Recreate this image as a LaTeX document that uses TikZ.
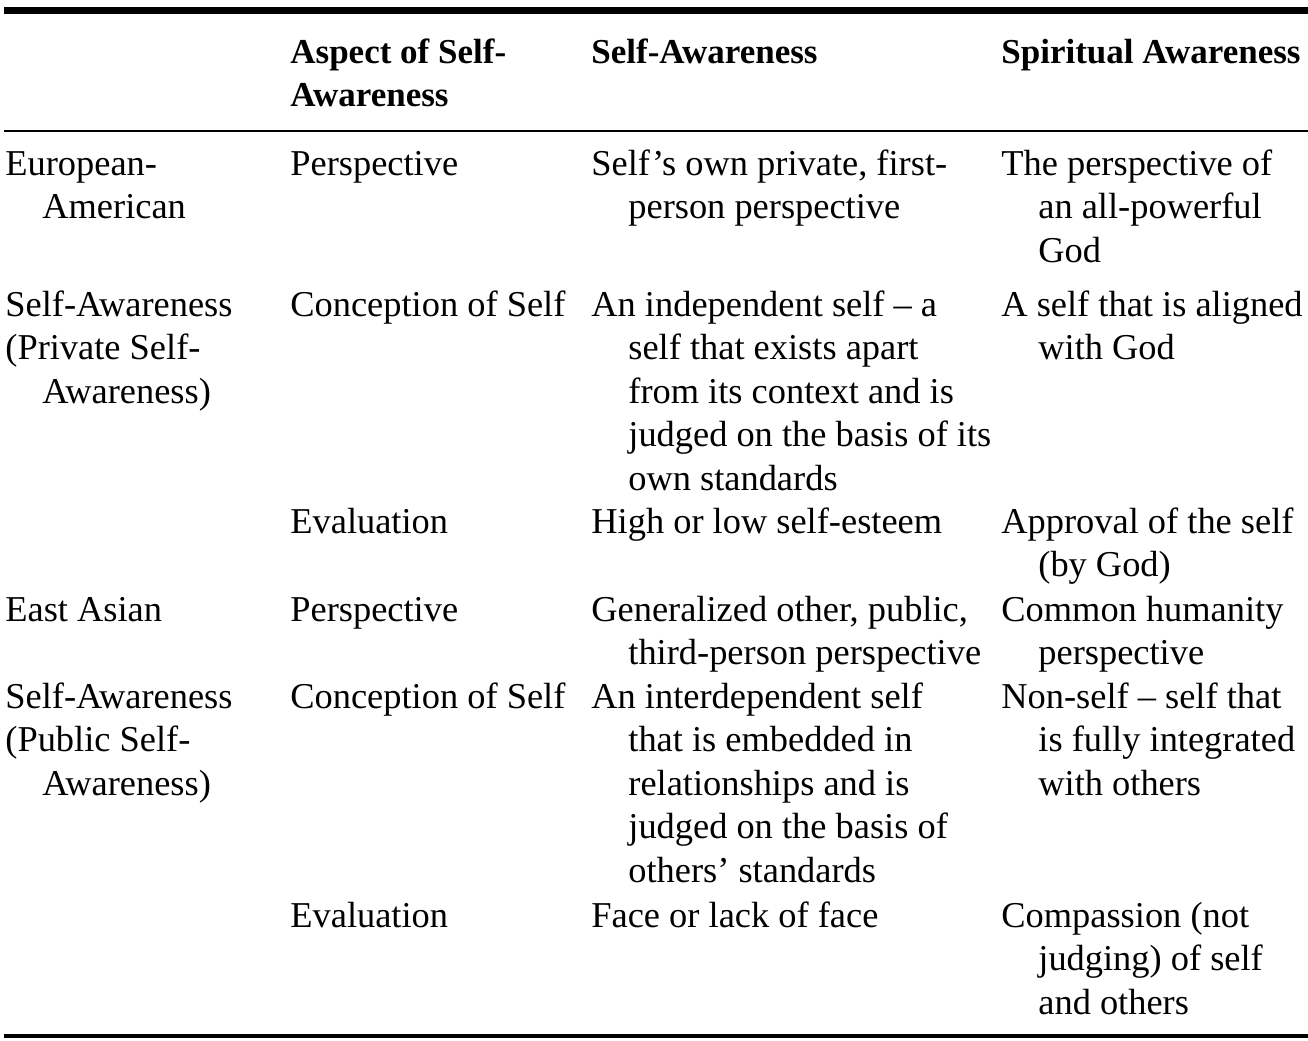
\documentclass[tikz,border=0pt]{standalone}
\usepackage{fontspec}
\setmainfont{Liberation Serif}
\usepackage{tikz}
\newcommand{\hin}{\hspace*{18.5pt}}
\newcommand{\lns}[1]{\begin{tabular}[t]{@{}l@{}}#1\end{tabular}}

\begin{document}
\begin{tikzpicture}[x=0.5pt,y=-0.5pt,
  cell/.style={anchor=base west,inner sep=0pt,font=\fontsize{18.2}{21.75}\selectfont},
  head/.style={cell,font=\fontsize{17.5}{21.75}\selectfont\bfseries}]
  \useasboundingbox (0,0) rectangle (1308,1040);
  % rules
  \draw[line width=3.5pt] (4,10) -- (1308,10);
  \draw[line width=1.1pt] (4,131) -- (1308,131);
  \draw[line width=2pt] (4,1036) -- (1308,1036);
  % header
  \node[head] (h2) at (290,63) {\lns{Aspect of Self-\\Awareness}};
  \node[head] (h3) at (591,63) {Self-Awareness};
  \node[head] (h4) at (1001,63) {Spiritual Awareness};
  % European-American
  \node[cell] (a1) at (5,175) {\lns{European-\\\hin American}};
  \node[cell] (a2) at (290,175) {Perspective};
  \node[cell] (a3) at (591,175) {\lns{Self’s own private, first-\\\hin person perspective}};
  \node[cell] (a4) at (1001,175) {\lns{The perspective of\\\hin an all-powerful\\\hin God}};
  \node[cell] (b1) at (5,316) {\lns{Self-Awareness\\(Private Self-\\\hin Awareness)}};
  \node[cell] (b2) at (290,316) {Conception of Self};
  \node[cell] (b3) at (591,316) {\lns{An independent self – a\\\hin self that exists apart\\\hin from its context and is\\\hin judged on the basis of its\\\hin own standards}};
  \node[cell] (b4) at (1001,316) {\lns{A self that is aligned\\\hin with God}};
  \node[cell] (c2) at (290,533) {Evaluation};
  \node[cell] (c3) at (591,533) {High or low self-esteem};
  \node[cell] (c4) at (1001,533) {\lns{Approval of the self\\\hin (by God)}};
  % East Asian
  \node[cell] (d1) at (5,621) {East Asian};
  \node[cell] (d2) at (290,621) {Perspective};
  \node[cell] (d3) at (591,621) {\lns{Generalized other, public,\\\hin third-person perspective}};
  \node[cell] (d4) at (1001,621) {\lns{Common humanity\\\hin perspective}};
  \node[cell] (e1) at (5,708) {\lns{Self-Awareness\\(Public Self-\\\hin Awareness)}};
  \node[cell] (e2) at (290,708) {Conception of Self};
  \node[cell] (e3) at (591,708) {\lns{An interdependent self\\\hin that is embedded in\\\hin relationships and is\\\hin judged on the basis of\\\hin others’ standards}};
  \node[cell] (e4) at (1001,708) {\lns{Non-self – self that\\\hin is fully integrated\\\hin with others}};
  \node[cell] (f2) at (290,927) {Evaluation};
  \node[cell] (f3) at (591,927) {Face or lack of face};
  \node[cell] (f4) at (1001,927) {\lns{Compassion (not\\\hin judging) of self\\\hin and others}};
\end{tikzpicture}
\end{document}
